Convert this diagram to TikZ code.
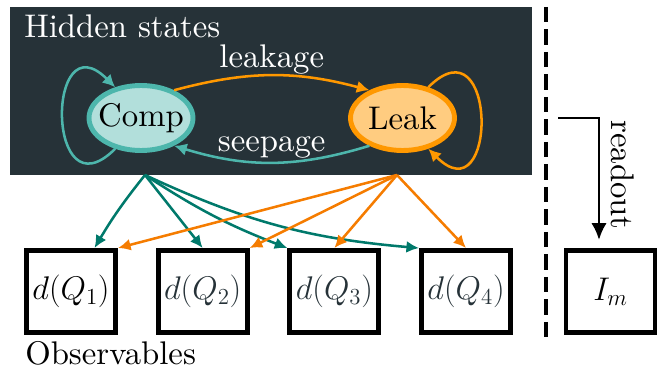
\RequirePackage{fix-cm}
\documentclass[tikz,border=0pt]{standalone}
\usepackage{amsmath,amssymb}
\usepackage{xcolor}
\usetikzlibrary{arrows.meta,positioning,shapes.geometric}

% Latin Modern 10pt design at every size
\DeclareFontFamily{TU}{lmrten}{}
\DeclareFontShape{TU}{lmrten}{m}{n}{<-> "[lmroman10-regular]:mapping=tex-text;"}{}
\renewcommand{\rmdefault}{lmrten}

\definecolor{hiddenbg}{HTML}{263238}
\definecolor{compfill}{HTML}{B2DFDB}
\definecolor{compline}{HTML}{4DB6AC}
\definecolor{leakfill}{HTML}{FFCC80}
\definecolor{leakline}{HTML}{FF9800}
\definecolor{compobs}{HTML}{00796B}
\definecolor{leakobs}{HTML}{F57C00}

\tikzset{
  statenode/.style={ellipse, line width=3.5pt, minimum width=2.6cm, minimum height=1.625cm, inner xsep=-6pt, inner ysep=0pt},
  obsbox/.style={draw, rectangle, line width=3.5pt, minimum width=2.225cm, minimum height=2.05cm, inner sep=0pt},
  hidarrow/.style={-{Latex[length=9pt,width=9pt]}, line width=1.8pt},
  obsarrow/.style={-{Latex[length=9pt,width=8.5pt]}, line width=1.8pt},
  readarrow/.style={-{Latex[length=12pt,width=11pt]}, line width=2pt},
  sepline/.style={dashed, dash pattern=on 11pt off 5pt, line width=3pt}
}

\begin{document}
\begin{tikzpicture}[font=\fontsize{23.3}{28}\selectfont]
 		\useasboundingbox (0,0) rectangle (16.675,9.2);
 		% hidden part
 		\node [fill=hiddenbg, inner sep=0pt, minimum width=13.05cm, minimum height=4.2cm, anchor=north west] (hidden) at (0.25,9.025) {};
 		\node [anchor=base west, inner sep=0pt, text=white] (hiddenlabel) at (0.6,8.25) {Hidden states};
 		\node [statenode, draw=compline, fill=compfill] (comp) at (3.525,6.25) {Comp};
 		\node [statenode, draw=leakline, fill=leakfill] (leak) at (10.0625,6.25) {Leak};
 		\draw [hidarrow, compline] (comp.230) to [out=225, in=135, looseness=4.1] (comp.130);
 		\draw [hidarrow, leakline] (leak.50) to [out=45, in=-45, looseness=4.1] (leak.-50);
 		\draw [hidarrow, leakline] (comp.40) to [bend left=15] node [above, inner sep=0pt, text=white] (leakagelabel) {leakage} (leak.140);
 		\draw [hidarrow, compline] (leak.-140) to [bend left=17] node [above, inner sep=2pt, text=white] (seepagelabel) {seepage} (comp.-40);
 		\coordinate (compout) at (3.625,4.825);
 		\coordinate (leakout) at (9.925,4.825);
 		% observables
 		\node [obsbox] (q1) at (1.775,1.9125) {$d(Q_1)$};
 		\node [obsbox, right=0.944cm of q1, text=hiddenbg] (q2) {$d(Q_2)$};
 		\node [obsbox, right=0.944cm of q2, text=hiddenbg] (q3) {$d(Q_3)$};
 		\node [obsbox, right=0.944cm of q3, text=hiddenbg] (q4) {$d(Q_4)$};
 		\node [obsbox, right=1.264cm of q4] (im) {$I_m$};
 		\node [anchor=base west, inner sep=0pt] (obslabel) at (0.625,0.1) {Observables};
 		\draw [obsarrow, compobs] (compout) to [bend right=4] (q1);
 		\draw [obsarrow, compobs] (compout) -- (q2.north);
 		\draw [obsarrow, compobs] (compout) to [bend right=6] (q3.north west);
 		\draw [obsarrow, compobs] (compout) to [bend right=10] (q4.north west);
 		\draw [obsarrow, leakobs] (leakout) -- (q1.north east);
 		\draw [obsarrow, leakobs] (leakout) -- (q2.north east);
 		\draw [obsarrow, leakobs] (leakout) -- (q3.north);
 		\draw [obsarrow, leakobs] (leakout) -- (q4.north);
 		% readout
 		\draw [sepline] (13.65,9.025) -- (13.65,0.625);
 		\coordinate (rdstart) at (13.95,6.25);
 		\coordinate (rdend) at (14.975,3.2);
 		\draw [readarrow] (rdstart) -| (rdend);
 		\node [rotate=-90] (rdlabel) at (15.575,4.825) {readout};
\end{tikzpicture}
\end{document}
